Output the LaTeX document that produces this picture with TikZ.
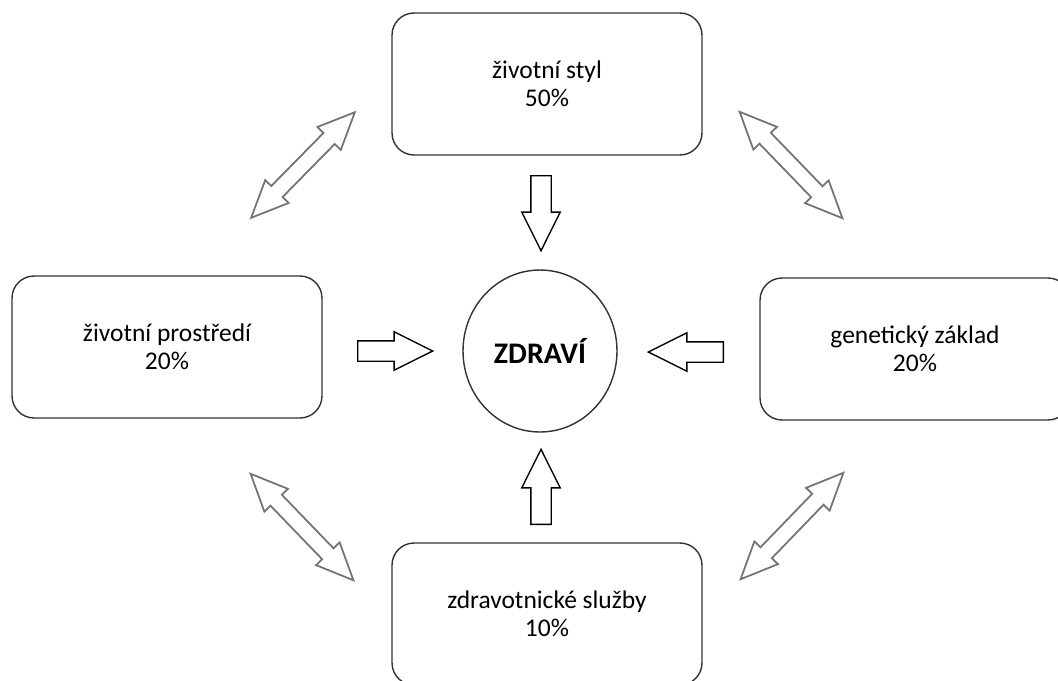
\documentclass[tikz,border=0pt]{standalone}
\usepackage{fontspec}
\setmainfont{Carlito}
\usetikzlibrary{shapes.geometric,shapes.arrows}

\begin{document}
\begin{tikzpicture}[
  x=0.02cm, y=-0.02cm,
  box/.style={rectangle, draw=black!80, line width=0.8pt, rounded corners=0.44cm,
    minimum width=6.2cm, minimum height=2.84cm, align=center,
    font=\fontsize{14.5pt}{16.2pt}\selectfont},
  hub/.style={ellipse, draw=black!80, line width=0.8pt, minimum width=3.08cm,
    minimum height=3.24cm, font=\fontsize{17pt}{20pt}\selectfont\bfseries},
  blockarrow/.style={single arrow, draw=black, line width=0.8pt, inner sep=0pt,
    text height=0.19cm, text depth=0.19cm, minimum height=1.5cm,
    single arrow head extend=0.18cm, single arrow tip angle=53, anchor=tail},
  dblarrow/.style={double arrow, draw=black!55, line width=1pt, inner sep=0pt,
    text height=0.14cm, text depth=0.14cm, minimum height=2.96cm,
    double arrow head extend=0.17cm, double arrow tip angle=48},
]
  \useasboundingbox (0,0) rectangle (1058,680);

  \node[hub] (zdravi) at (540, 351) {ZDRAVÍ};

  \node[box] (styl) at (547, 84) {životní styl\\50\%};
  \node[box] (prostredi) at (167, 347) {životní prostředí\\20\%};
  \node[box] (genetika) at (915, 349) {genetický základ\\20\%};
  \node[box] (sluzby) at (547, 614) {zdravotnické služby\\10\%};

  % arrows into the centre
  \node[blockarrow, rotate=-90] (a1) at (541, 175) {};
  \node[blockarrow] (a2) at (357, 351) {};
  \node[blockarrow, rotate=180] (a3) at (724, 352) {};
  \node[blockarrow, rotate=90] (a4) at (541, 525) {};

  % double arrows between the factors
  \node[dblarrow, rotate=45.5] (d1) at (303, 165) {};
  \node[dblarrow, rotate=-46] (d2) at (791, 165) {};
  \node[dblarrow, rotate=-46] (d3) at (302, 527) {};
  \node[dblarrow, rotate=46] (d4) at (792, 526) {};
\end{tikzpicture}
\end{document}
